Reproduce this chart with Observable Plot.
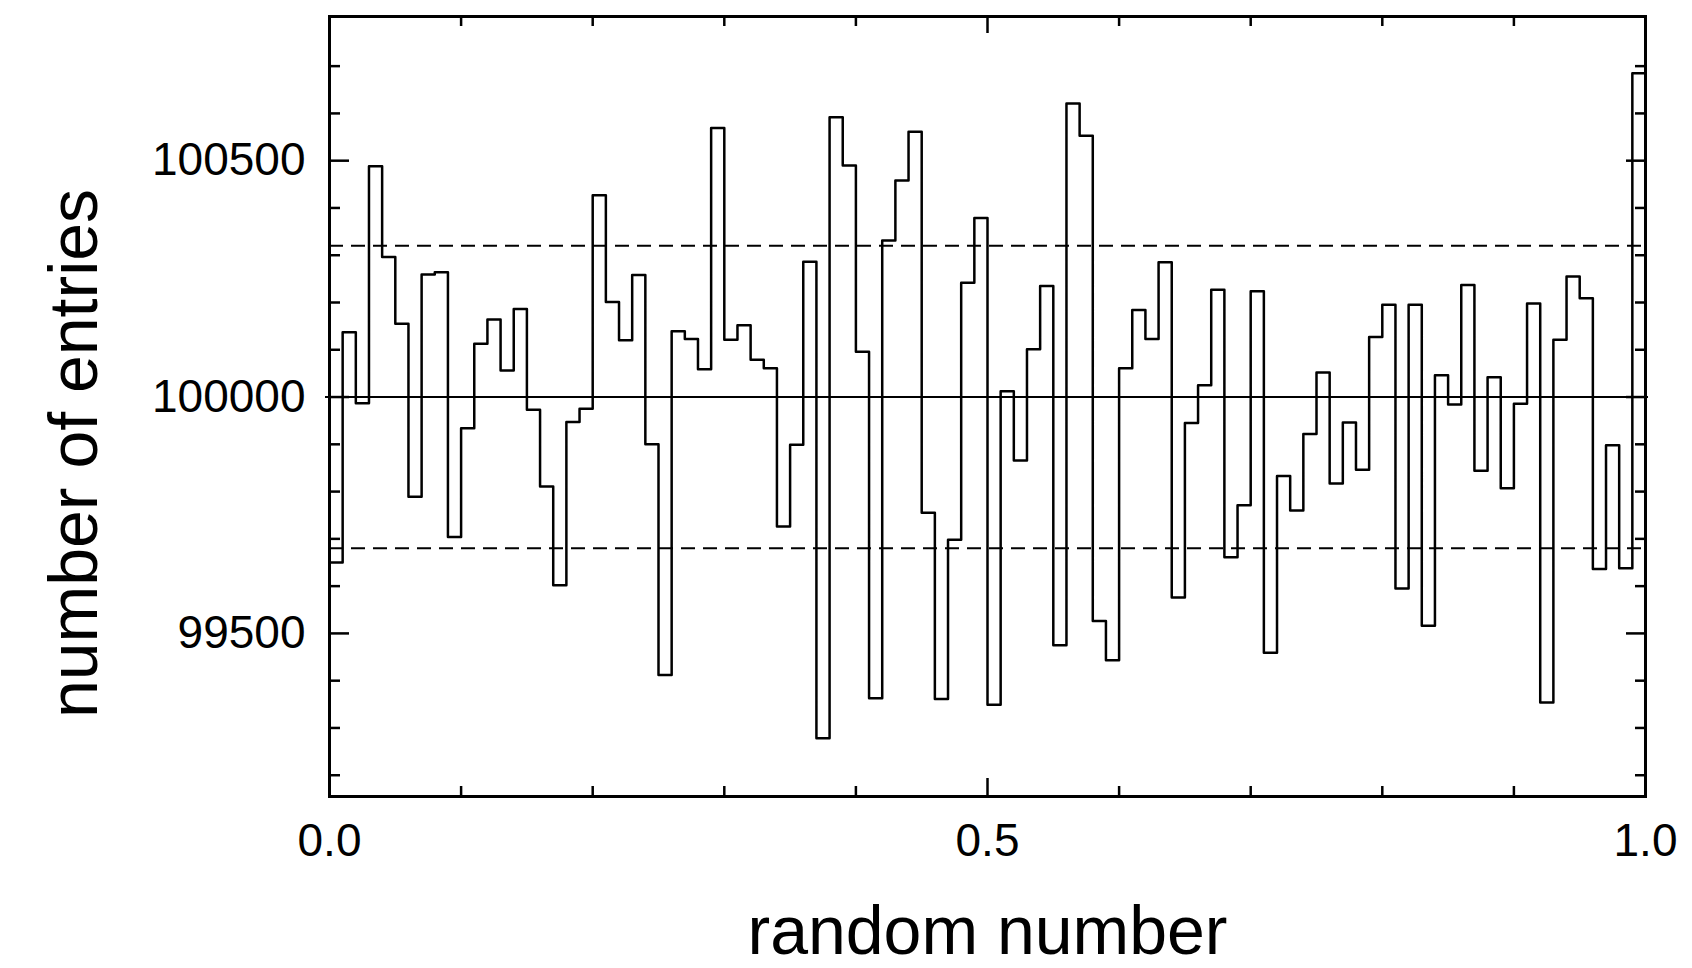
<!DOCTYPE html>
<html>
<head>
<meta charset="utf-8">
<script src="https://cdn.jsdelivr.net/npm/d3@7"></script>
<script src="https://cdn.jsdelivr.net/npm/@observablehq/plot@0.6"></script>
<style>
  html, body { margin: 0; padding: 0; background: #fff; }
  #chart svg { display: block; }
</style>
</head>
<body>
<div id="chart"></div>
<script>
// Histogram of 100 bins over [0, 1)
const counts = [
  99650, 100137, 99987, 100488, 100296, 100155, 99789, 100259, 100264, 99704,
  99934, 100113, 100164, 100056, 100186, 99973, 99811, 99602, 99947, 99975,
  100427, 100201, 100120, 100258, 99900, 99412, 100139, 100123, 100059, 100569,
  100121, 100152, 100079, 100061, 99726, 99899, 100286, 99278, 100592, 100490,
  100096, 99363, 100331, 100458, 100561, 99755, 99361, 99698, 100242, 100379,
  99349, 100012, 99866, 100101, 100235, 99475, 100621, 100553, 99526, 99443,
  100061, 100184, 100123, 100285, 99576, 99945, 100025, 100227, 99661, 99771,
  100224, 99459, 99833, 99760, 99922, 100052, 99817, 99946, 99846, 100127,
  100195, 99595, 100195, 99516, 100046, 99984, 100237, 99844, 100042, 99807,
  99986, 100198, 99354, 100121, 100255, 100209, 99636, 99898, 99638, 100685
];
const xRange = [0, 1];
const yRange = [99155, 100805];
const meanLine = [100000];
const sigmaLines = [99680, 100320];
const xMajorTicks = [0, 0.5, 1];
const xMinorTicks = [0.1, 0.2, 0.3, 0.4, 0.6, 0.7, 0.8, 0.9];
const yMajorTicks = [99500, 100000, 100500];
const yMinorTicks = [99200, 99300, 99400, 99600, 99700, 99800, 99900, 100100, 100200, 100300, 100400, 100600, 100700];
const xTitle = "random number";
const yTitle = "number of entries";

const binWidth = (xRange[1] - xRange[0]) / counts.length;
const bins = counts.map((n, i) => ({x: xRange[0] + i * binWidth, n}));
bins.push({x: xRange[1], n: counts[counts.length - 1]});

const font = "'Liberation Sans', Arial, sans-serif";
const tickW = 2.5;

const chart = Plot.plot({
  width: 1692,
  height: 968,
  marginLeft: 329,
  marginRight: 47,
  marginTop: 16,
  marginBottom: 172,
  style: {fontFamily: font, color: "black", background: "white"},
  x: {domain: xRange},
  y: {domain: yRange},
  marks: [
    Plot.ruleY(sigmaLines, {stroke: "black", strokeWidth: 2, strokeDasharray: "14,8", insetRight: -4}),
    Plot.ruleY(meanLine, {stroke: "black", strokeWidth: 2, insetLeft: -4, insetRight: -3}),
    Plot.lineY(bins, {x: "x", y: "n", curve: "step-after", stroke: "black", strokeWidth: 2.5}),
    Plot.frame({stroke: "black", strokeWidth: 3}),
    // y axes
    Plot.axisY(yMajorTicks, {anchor: "left", tickSize: -20, tickPadding: 44, strokeWidth: tickW,
      tickFormat: d => String(d), fontSize: 46, label: null}),
    Plot.axisY(yMinorTicks, {anchor: "left", tickSize: -11, strokeWidth: tickW, fill: "none"}),
    Plot.axisY(yMajorTicks, {anchor: "right", tickSize: -20, strokeWidth: tickW, fill: "none"}),
    Plot.axisY(yMinorTicks, {anchor: "right", tickSize: -11, strokeWidth: tickW, fill: "none"}),
    // x axes
    Plot.axisX(xMajorTicks, {anchor: "bottom", tickSize: -18, tickPadding: 45, strokeWidth: tickW,
      tickFormat: d3.format(".1f"), fontSize: 46, label: null}),
    Plot.axisX(xMinorTicks, {anchor: "bottom", tickSize: -10, strokeWidth: tickW, fill: "none"}),
    Plot.axisX(xMajorTicks, {anchor: "top", tickSize: -16, strokeWidth: tickW, fill: "none"}),
    Plot.axisX(xMinorTicks, {anchor: "top", tickSize: -9, strokeWidth: tickW, fill: "none"}),
    // titles
    Plot.text([xTitle], {frameAnchor: "bottom", dy: 157, lineAnchor: "bottom", textAnchor: "middle", fontSize: 68, fill: "black"}),
    Plot.text([yTitle], {frameAnchor: "left", rotate: -90, dx: -233, dy: 47, lineAnchor: "bottom", textAnchor: "middle", fontSize: 68, fill: "black"})
  ]
});
document.getElementById("chart").appendChild(chart);
</script>
</body>
</html>
